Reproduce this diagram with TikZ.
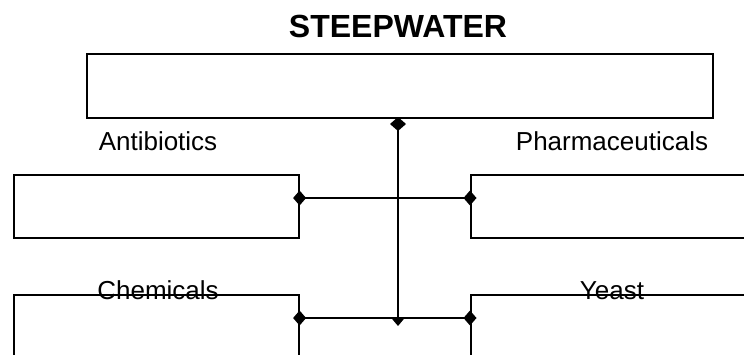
\documentclass[tikz,border=0pt]{standalone}
\usepackage{fontspec}
\setmainfont{Liberation Sans}
\usetikzlibrary{arrows.meta,calc}
\begin{document}
\begin{tikzpicture}[x=1pt,y=-1pt,
  box/.style={draw,line width=1.6pt,rectangle,inner sep=0pt,anchor=north west},
  lbl/.style={font=\fontsize{26}{28}\selectfont,inner sep=0pt,anchor=base},
  conn/.style={line width=1.6pt}]
\useasboundingbox (0,0) rectangle (744,354);
\clip (0,0) rectangle (744,354);
\node[font=\fontsize{32}{34}\selectfont\bfseries,inner sep=0pt,anchor=base] (title) at (398,37) {STEEPWATER};
\node[box,minimum width=626pt,minimum height=64pt] (top) at (86,53) {};
\node[box,minimum width=285pt,minimum height=63pt] (anti) at (13,174) {};
\node[box,minimum width=300pt,minimum height=63pt] (pharma) at (470,174) {};
\node[box,minimum width=285pt,minimum height=70pt] (chem) at (13,294) {};
\node[box,minimum width=300pt,minimum height=70pt] (yeast) at (470,294) {};
\node[lbl] (lanti) at (158,150) {Antibiotics};
\node[lbl] (lpharma) at (612,150) {Pharmaceuticals};
\node[lbl] (lchem) at (158,299) {Chemicals};
\node[lbl] (lyeast) at (612,299) {Yeast};
\coordinate (a1) at ($(anti.north east)+(0,24)$);
\coordinate (p1) at ($(pharma.north west)+(0,24)$);
\coordinate (c1) at ($(chem.north east)+(0,24)$);
\coordinate (y1) at ($(yeast.north west)+(0,24)$);
\coordinate (ts) at (398,117);
\coordinate (j) at (398,318);
\draw[conn,{Diamond[length=13pt,width=15pt]}-{Diamond[length=13pt,width=15pt]},shorten <=-6.5pt,shorten >=-6.5pt] (a1) -- (p1);
\draw[conn,{Diamond[length=13pt,width=15pt]}-{Diamond[length=13pt,width=15pt]},shorten <=-6.5pt,shorten >=-6.5pt] (c1) -- (y1);
\draw[conn,{Diamond[length=14pt,width=16pt]}-{Triangle[length=8pt,width=13pt]},shorten >=-8pt] (ts) -- (j);
\end{tikzpicture}
\end{document}
